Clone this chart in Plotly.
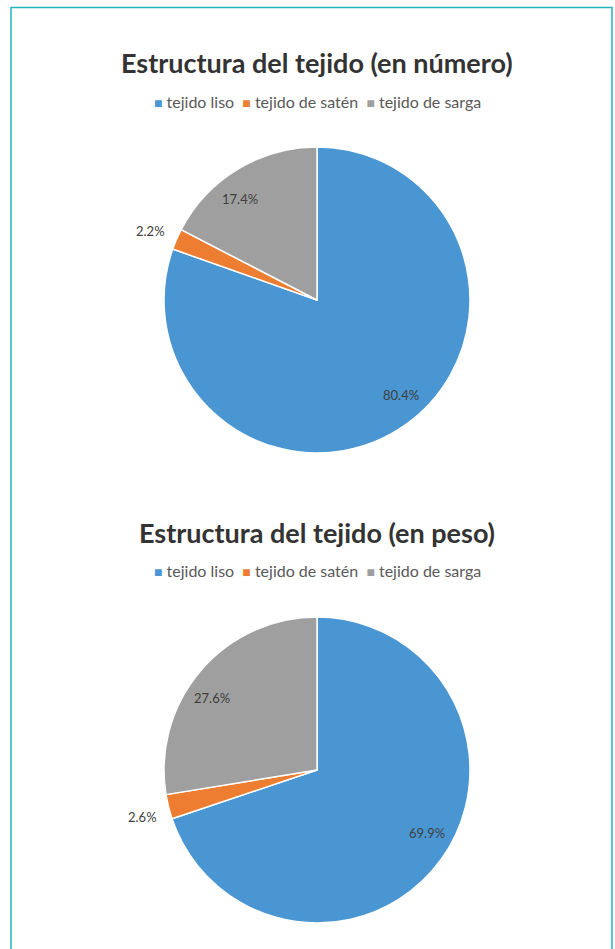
import math
import plotly.graph_objects as go

# Weave structure shares (%)
categories = ["tejido liso", "tejido de satén", "tejido de sarga"]
share_by_number = [80.4, 2.2, 17.4]
share_by_weight = [69.9, 2.6, 27.6]
titles = ["Estructura del tejido (en número)", "Estructura del tejido (en peso)"]

colors = ["#4a96d3", "#ed7d31", "#9f9f9f"]
W, H = 615, 949
FONT = "Lato, 'Open Sans', sans-serif"
LABEL_COLOR = "#404040"

# label placement style: fraction of radius, angular nudge (deg)
INSIDE_R, INSIDE_SHIFT = 0.83, -6.0
OUTSIDE_R, OUTSIDE_SHIFT = 1.18, -1.0
SMALL_SLICE = 5.0


def fx(x):
    return x / W


def fy(y):
    return 1 - y / H


# pixel boxes of each pie and its header
panels = [
    dict(values=share_by_number, box=(164, 470, 147, 453), title_y=63, legend_y=101),
    dict(values=share_by_weight, box=(164, 470, 617, 923), title_y=532, legend_y=570),
]

fig = go.Figure()
annotations = []

legend_html = "&nbsp;&nbsp;".join(
    f"<span style='color:{c};font-size:14px'>■</span>&nbsp;{name}"
    for name, c in zip(categories, colors)
)

for i, p in enumerate(panels):
    x0, x1, y0, y1 = p["box"]
    vals = p["values"]
    fig.add_trace(go.Pie(
        labels=categories,
        values=vals,
        sort=False,
        direction="clockwise",
        rotation=0,
        marker=dict(colors=colors, line=dict(color="white", width=1.5)),
        textinfo="none",
        domain=dict(x=[fx(x0), fx(x1)], y=[fy(y1), fy(y0)]),
        showlegend=False,
        hoverinfo="label+percent",
    ))

    # percentage labels placed around each slice's mid angle
    cx, cy = (x0 + x1) / 2, (y0 + y1) / 2
    r = min(x1 - x0, y1 - y0) / 2
    total = sum(vals)
    start = 0.0
    for v in vals:
        mid = (start + v / 2) / total * 360
        start += v
        if v < SMALL_SLICE:
            rf, shift = OUTSIDE_R, OUTSIDE_SHIFT
        else:
            rf, shift = INSIDE_R, INSIDE_SHIFT
        a = math.radians(mid + shift)
        lx = cx + rf * r * math.sin(a)
        ly = cy - rf * r * math.cos(a)
        annotations.append(dict(
            text=f"{v:.1f}%", x=fx(lx), y=fy(ly), xref="paper", yref="paper",
            xanchor="center", yanchor="middle", showarrow=False,
            font=dict(family=FONT, size=13, color=LABEL_COLOR),
        ))

    annotations.append(dict(
        text=f"<b>{titles[i]}</b>", x=fx(317), y=fy(p["title_y"]),
        xref="paper", yref="paper", xanchor="center", yanchor="middle", showarrow=False,
        font=dict(family=FONT, size=27, color="#333333"),
    ))
    annotations.append(dict(
        text=legend_html, x=fx(317), y=fy(p["legend_y"]),
        xref="paper", yref="paper", xanchor="center", yanchor="middle", showarrow=False,
        font=dict(family=FONT, size=16, color="#595959"),
    ))

fig.update_layout(
    width=W, height=H,
    margin=dict(l=0, r=0, t=0, b=0),
    paper_bgcolor="white", plot_bgcolor="white",
    annotations=annotations,
    shapes=[
        dict(type="rect", xref="paper", yref="paper", x0=fx(11), x1=fx(612),
             y0=fy(960), y1=fy(7.5), line=dict(color="#22b5bd", width=1.5)),
    ],
)

fig.write_html("out.html")
